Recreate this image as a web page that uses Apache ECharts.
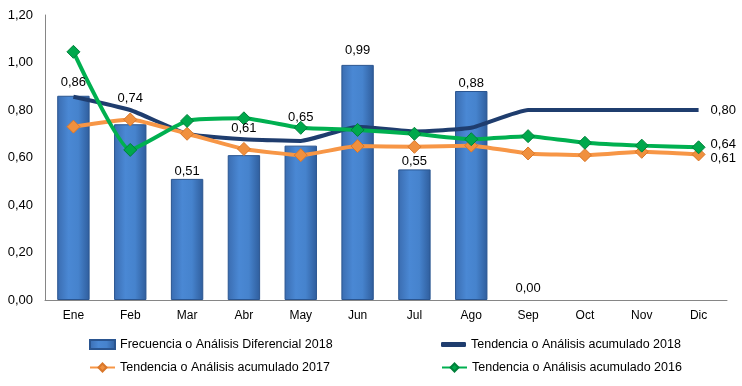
<!DOCTYPE html>
<html><head><meta charset="utf-8">
<script src="https://cdn.jsdelivr.net/npm/echarts@6/dist/echarts.min.js"></script>
<style>html,body{margin:0;padding:0;background:#fff}#c{width:742px;height:386px}</style>
</head><body><div id="c"></div>
<script>
var categories = ['Ene','Feb','Mar','Abr','May','Jun','Jul','Ago','Sep','Oct','Nov','Dic'];
var bars2018 = [0.86,0.74,0.51,0.61,0.65,0.99,0.55,0.88,0.00,null,null,null];
var trend2018 = [0.856,0.80,0.70,0.677,0.67,0.73,0.71,0.725,0.80,0.80,0.80,0.80];
var trend2017 = [0.73,0.76,0.70,0.636,0.61,0.648,0.645,0.65,0.617,0.61,0.624,0.613];
var trend2016 = [1.045,0.632,0.754,0.765,0.725,0.716,0.70,0.677,0.69,0.662,0.65,0.643];
var yTicks = [0,0.2,0.4,0.6,0.8,1.0,1.2];
var names = ['Frecuencia o Análisis Diferencial 2018','Tendencia o Análisis acumulado 2018','Tendencia o Análisis acumulado 2017','Tendencia o Análisis acumulado 2016'];
// label placement (styling only): pixel gap between bar top and its value label
var labelGap = [7,19,1,20,22,8,1,1,5,0,0,0];

var FONT = 'Liberation Sans Narrow, Arial Narrow, Liberation Sans, sans-serif';
function fmt(v){ return Number(v).toFixed(2).replace('.', ','); }
var endLabel = function(dy){ return {show:true, distance:12, offset:[0,dy], color:'#000', fontSize:13, fontFamily:FONT, formatter:function(p){return fmt(p.value);}}; };
var chart = echarts.init(document.getElementById('c'));
var legendBase = {itemWidth:25, itemHeight:10, itemGap:3, textStyle:{fontSize:12.5, color:'#000', fontFamily:FONT}};
function lg(name,left,top,extra){ return Object.assign({}, legendBase, {data:[name], left:left, top:top, orient:'horizontal'}, extra||{}); }
var barGrad = new echarts.graphic.LinearGradient(0,0,1,0,[{offset:0,color:'#3a6cb0'},{offset:0.35,color:'#4a88d4'},{offset:0.65,color:'#4683cd'},{offset:1,color:'#2f5d9c'}]);
var barData = bars2018.map(function(v){ return v === 0 ? {value:v, itemStyle:{borderWidth:0}} : v; });
var labelData = bars2018.map(function(v,i){ return {value:v, label:{distance:labelGap[i]}}; });
chart.setOption({
  animation:false,
  grid:{left:45, right:15, top:15, bottom:86},
  legend:[
    lg(names[0],84,333,{data:[{name:names[0], icon:'rect'}], itemHeight:9}),
    lg(names[1],436,333,{data:[{name:names[1], icon:'roundRect'}], itemHeight:5}),
    lg(names[2],84,356),
    lg(names[3],436,356)],
  xAxis:{type:'category', data:categories,
    axisLine:{lineStyle:{color:'#868686', width:1}}, axisTick:{show:false},
    axisLabel:{color:'#000', fontSize:12, fontFamily:FONT, margin:10}},
  yAxis:{type:'value', min:0, max:1.2, interval:0.2,
    axisLine:{show:true, lineStyle:{color:'#868686'}}, axisTick:{show:false}, splitLine:{show:false},
    axisLabel:{color:'#000', fontSize:13, fontFamily:FONT, margin:12, formatter:function(v){return fmt(v);}}},
  series:[
    {name:names[0], type:'bar', data:barData, barWidth:'57%', z:1,
      itemStyle:{color:barGrad, borderColor:'#2a5590', borderWidth:1}},
    {name:names[1], type:'line', data:trend2018, symbol:'none', smooth:0.15, z:3,
      lineStyle:{color:'#1f3d6e', width:4}, itemStyle:{color:'#1f3d6e'}, endLabel:endLabel(0)},
    {name:names[2], type:'line', data:trend2017, symbol:'diamond', symbolSize:13, smooth:0.15, z:4,
      lineStyle:{color:'#f79646', width:4}, itemStyle:{color:'#f0903e', borderColor:'#d9772a', borderWidth:1}, endLabel:endLabel(4)},
    {name:names[3], type:'line', data:trend2016, symbol:'diamond', symbolSize:13, smooth:0.15, z:5,
      lineStyle:{color:'#00b050', width:4}, itemStyle:{color:'#00a84c', borderColor:'#00803a', borderWidth:1}, endLabel:endLabel(-3)},
    {name:'labels', type:'bar', data:labelData, barWidth:'57%', barGap:'-100%', z:10, silent:true,
      itemStyle:{color:'rgba(0,0,0,0)'},
      label:{show:true, position:'top', color:'#000', fontSize:13, fontFamily:FONT, formatter:function(p){return fmt(p.value);}}}
  ]
});
</script></body></html>
